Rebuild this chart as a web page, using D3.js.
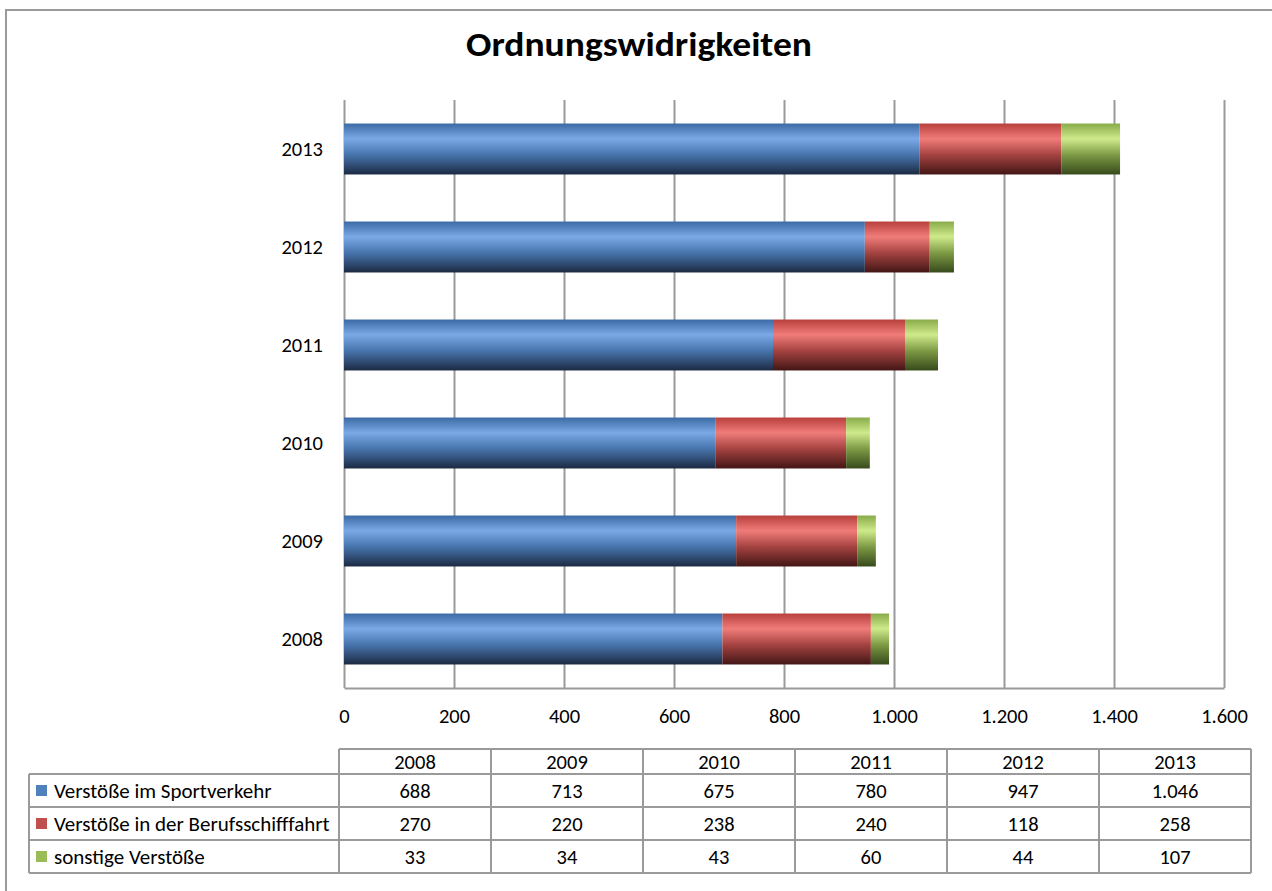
<!DOCTYPE html>
<html>
<head>
<meta charset="utf-8">
<script src="https://cdn.jsdelivr.net/npm/d3@7"></script>
<style>
body{margin:0;background:#fff;}
text{font-family:Carlito,Lato,"Open Sans",sans-serif;fill:#000;}
</style>
</head>
<body>
<div id="chart"></div>
<script>
// chart values
var years = ['2008','2009','2010','2011','2012','2013'];
var seriesNames = ['Verstöße im Sportverkehr','Verstöße in der Berufsschifffahrt','sonstige Verstöße'];
var sport = [688,713,675,780,947,1046];
var beruf = [270,220,238,240,118,258];
var sonst = [33,34,43,60,44,107];
var xTicks = [0,200,400,600,800,1000,1200,1400,1600];

var W = 1272, H = 891;
var plot = {x0:344, x1:1224, y0:100, y1:688};
var fs = 20.5;

var svg = d3.select('#chart').append('svg')
	.attr('width',W).attr('height',H);

var de = d3.formatLocale({decimal:',',thousands:'.',grouping:[3],currency:['','€']});
var fmt = de.format(',');

// gradients, one per series
var grads = [
	['#3c6aa5','#7aa9e6','#4673ab','#1c2a42'],
	['#b8403d','#f07c79','#a34240','#421615'],
	['#89ab48','#cfea8c','#7c9944','#374a1c']
];
var defs = svg.append('defs');
grads.forEach(function(g,i){
	var lg = defs.append('linearGradient')
		.attr('id','grad'+i)
		.attr('x1',0).attr('y1',0).attr('x2',0).attr('y2',1);
	var offs = [0,0.3,0.62,1];
	for (var k=0;k<4;k++){
		lg.append('stop').attr('offset',offs[k]).attr('stop-color',g[k]);
	}
});

// outer frame (only top + left visible)
svg.append('path')
	.attr('d','M6,891V10H1272')
	.attr('fill','none')
	.attr('stroke','#9a9a9a')
	.attr('stroke-width',2);

svg.append('text')
	.attr('x',639).attr('y',56)
	.attr('text-anchor','middle')
	.attr('font-size',34)
	.attr('font-weight','bold')
	.attr('textLength',346)
	.attr('lengthAdjust','spacingAndGlyphs')
	.text('Ordnungswidrigkeiten');

var x = d3.scaleLinear().domain([0,1600]).range([plot.x0,plot.x1]);
var y = d3.scaleBand().domain(years.slice().reverse())
	.range([plot.y0,plot.y1]).paddingInner(0.48).paddingOuter(0.24);

// grid + x labels
var gx = svg.append('g')
	.attr('transform','translate(0,'+plot.y1+')')
	.call(d3.axisBottom(x).tickValues(xTicks).tickFormat(fmt)
		.tickSize(-(plot.y1-plot.y0)).tickSizeOuter(0).tickPadding(20));
gx.selectAll('line').attr('stroke','#9a9a9a').attr('stroke-width',2);
gx.select('.domain').attr('stroke','#9a9a9a').attr('stroke-width',2);
gx.selectAll('text').attr('font-size',fs).attr('font-family','Carlito,Lato,sans-serif');

var gy = svg.append('g')
	.attr('transform','translate('+plot.x0+',0)')
	.call(d3.axisLeft(y).tickSize(0).tickPadding(21));
gy.select('.domain').remove();
gy.selectAll('text').attr('font-size',fs).attr('font-family','Carlito,Lato,sans-serif');

// stacked bars
var rows = years.map(function(yr,i){
	return {year:yr, s0:sport[i], s1:beruf[i], s2:sonst[i]};
});
var stack = d3.stack().keys(['s0','s1','s2'])(rows);

svg.append('g').selectAll('g')
	.data(stack).enter()
	.append('g')
		.attr('fill',function(d,i){return 'url(#grad'+i+')';})
	.selectAll('rect')
	.data(function(d){return d;}).enter()
	.append('rect')
		.attr('x',function(d){return x(d[0]);})
		.attr('width',function(d){return x(d[1])-x(d[0]);})
		.attr('y',function(d){return y(d.data.year);})
		.attr('height',y.bandwidth());

// data table
var tbl = {x0:29, xc:339, x1:1251, yh:749, y0:774, y1:873};
var col = d3.scaleBand().domain(years).range([tbl.xc,tbl.x1]);
var row = d3.scaleBand().domain(seriesNames).range([tbl.y0,tbl.y1]);
var swatch = ['#4f81bd','#c0504d','#9bbb59'];
var vals = [sport,beruf,sonst];
var tg = svg.append('g');
var lc = '#9a9a9a';

// horizontal lines
tg.append('line').attr('x1',tbl.xc).attr('x2',tbl.x1).attr('y1',tbl.yh).attr('y2',tbl.yh);
[tbl.y0].concat(seriesNames.map(function(s){return row(s)+row.bandwidth();}))
	.forEach(function(yy){
		tg.append('line').attr('x1',tbl.x0).attr('x2',tbl.x1).attr('y1',yy).attr('y2',yy);
	});
// vertical lines
tg.append('line').attr('x1',tbl.x0).attr('x2',tbl.x0).attr('y1',tbl.y0).attr('y2',tbl.y1);
years.forEach(function(yr){
	tg.append('line').attr('x1',col(yr)).attr('x2',col(yr)).attr('y1',tbl.yh).attr('y2',tbl.y1);
});
tg.append('line').attr('x1',tbl.x1).attr('x2',tbl.x1).attr('y1',tbl.yh).attr('y2',tbl.y1);
tg.selectAll('line').attr('stroke',lc).attr('stroke-width',2);

tg.selectAll('.hd').data(years).enter()
	.append('text')
		.attr('class','hd')
		.attr('x',function(d){return col(d)+col.bandwidth()/2;})
		.attr('y',(tbl.yh+tbl.y0)/2)
		.attr('dy','0.35em')
		.attr('text-anchor','middle')
		.attr('font-size',fs)
		.text(function(d){return d;});

seriesNames.forEach(function(s,i){
	var cy = row(s)+row.bandwidth()/2;
	tg.append('rect')
		.attr('x',36).attr('y',cy-5.5).attr('width',11).attr('height',11)
		.attr('fill',swatch[i]);
	tg.append('text')
		.attr('x',54).attr('y',cy).attr('dy','0.35em')
		.attr('font-size',21)
		.text(s);
	tg.selectAll('.v'+i).data(vals[i]).enter()
		.append('text')
			.attr('x',function(d,k){return col(years[k])+col.bandwidth()/2;})
			.attr('y',cy).attr('dy','0.35em')
			.attr('text-anchor','middle')
			.attr('font-size',fs)
			.text(function(d){return fmt(d);});
});
</script>
</body>
</html>
